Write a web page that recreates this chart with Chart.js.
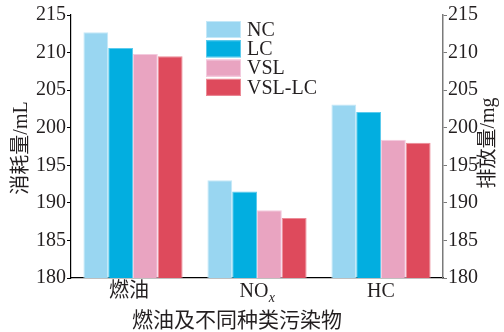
<!DOCTYPE html>
<html>
<head>
<meta charset="utf-8">
<script src="https://cdn.jsdelivr.net/npm/chart.js@4/dist/chart.umd.min.js"></script>
<style>
  html, body { margin: 0; padding: 0; background: #ffffff; }
  #wrap { width: 504px; height: 332px; position: relative; }
</style>
</head>
<body>
<div id="wrap"><canvas id="c" width="504" height="332"></canvas></div>
<script>
// Categories (fuel + pollutants) and the four control strategies
const categories = ['燃油', 'NOx', 'HC'];
const seriesNames = ['NC', 'LC', 'VSL', 'VSL-LC'];
const ncValues = [212.7, 193.0, 203.1];
const lcValues = [210.6, 191.5, 202.1];
const vslValues = [209.8, 189.0, 198.4];
const vslLcValues = [209.5, 188.0, 198.0];
const yMin = 180, yMax = 215, yStep = 5;

const leftTitle = '消耗量/mL';
const rightTitle = '排放量/mg';
const xTitle = '燃油及不同种类污染物';

const fillColors = ['#99d6f1', '#02aee0', '#e9a4c1', '#de4a5c'];
const edgeColors = ['#c4e8f8', '#5ccbed', '#f3cade', '#ec8b97'];
const textColor = '#231f20';
const serif = '"Liberation Serif", "Noto Sans CJK SC", serif';

const seriesValues = [ncValues, lcValues, vslValues, vslLcValues];

const datasets = seriesNames.map((name, i) => ({
  label: name,
  data: seriesValues[i],
  backgroundColor: fillColors[i],
  borderColor: edgeColors[i],
  borderWidth: 1,
  borderSkipped: 'bottom',
  categoryPercentage: 0.8,
  barPercentage: 1.0,
  yAxisID: 'y'
}));

// Draws category labels, axis titles and the legend box
const annotate = {
  id: 'annotate',
  afterDraw(chart) {
    const ctx = chart.ctx;
    const xs = chart.scales.x;
    ctx.save();
    ctx.fillStyle = textColor;
    ctx.textBaseline = 'middle';

    // category labels (NOx gets an italic subscript x)
    categories.forEach((cat, i) => {
      const cx = xs.getPixelForValue(i);
      const cy = 292;
      if (cat === 'NOx') {
        ctx.font = '20px ' + serif;
        const main = 'NO';
        ctx.font = '20px ' + serif;
        const w1 = ctx.measureText(main).width;
        ctx.font = 'italic 14px ' + serif;
        const w2 = ctx.measureText('x').width;
        const x0 = cx - (w1 + w2) / 2;
        ctx.textAlign = 'left';
        ctx.font = '20px ' + serif;
        ctx.fillText(main, x0, cy);
        ctx.font = 'italic 14px ' + serif;
        ctx.fillText('x', x0 + w1 + 0.5, cy + 6);
      } else {
        ctx.font = '20px ' + serif;
        ctx.textAlign = 'center';
        ctx.fillText(cat, cx - (i === 0 ? 4 : 0), cy);
      }
    });

    // x-axis title
    ctx.font = '21px ' + serif;
    ctx.textAlign = 'center';
    ctx.fillText(xTitle, 237, 321);

    // rotated y-axis titles
    ctx.font = '20px ' + serif;
    ctx.save();
    ctx.translate(22, 148);
    ctx.rotate(-Math.PI / 2);
    ctx.fillText(leftTitle, 0, 0);
    ctx.restore();
    ctx.save();
    ctx.translate(489, 143);
    ctx.rotate(-Math.PI / 2);
    ctx.fillText(rightTitle, 0, 0);
    ctx.restore();

    // legend
    const bx = 206, by = 21, bw = 35, bh = 17, gap = 19.3;
    chart.data.datasets.forEach((ds, i) => {
      const y = by + i * gap;
      ctx.fillStyle = ds.backgroundColor;
      ctx.fillRect(bx, y, bw, bh);
      ctx.strokeStyle = ds.borderColor;
      ctx.lineWidth = 1;
      ctx.strokeRect(bx + 0.5, y + 0.5, bw - 1, bh - 1);
      ctx.fillStyle = textColor;
      ctx.font = '20px ' + serif;
      ctx.textAlign = 'left';
      ctx.fillText(ds.label, bx + bw + 6, y + bh / 2 + 1);
    });
    ctx.restore();
  }
};

new Chart(document.getElementById('c'), {
  type: 'bar',
  data: { labels: categories, datasets },
  plugins: [annotate],
  options: {
    responsive: false,
    animation: false,
    layout: { padding: { top: 15, right: 0, bottom: 0, left: 0 } },
    plugins: { legend: { display: false }, tooltip: { enabled: false } },
    scales: {
      x: {
        grid: { display: false },
        border: { display: true, color: '#000000', width: 1.2 },
        ticks: { display: false },
        afterFit(scale) { scale.height = 54; }
      },
      y: {
        position: 'left',
        min: yMin, max: yMax,
        grid: { drawOnChartArea: false, drawTicks: true, tickLength: 4, tickColor: '#000000' },
        border: { display: true, color: '#000000', width: 1.2 },
        ticks: { stepSize: yStep, padding: 1, color: textColor, font: { family: serif, size: 20 } },
        afterFit(scale) { scale.width = 71; }
      },
      y2: {
        position: 'right',
        min: yMin, max: yMax,
        grid: { drawOnChartArea: false, drawTicks: true, tickLength: 4, tickColor: '#7a7a7a' },
        border: { display: true, color: '#7a7a7a', width: 1.5 },
        ticks: { stepSize: yStep, padding: 1, color: textColor, font: { family: serif, size: 20 } },
        afterFit(scale) { scale.width = 61; }
      }
    }
  }
});
</script>
</body>
</html>
